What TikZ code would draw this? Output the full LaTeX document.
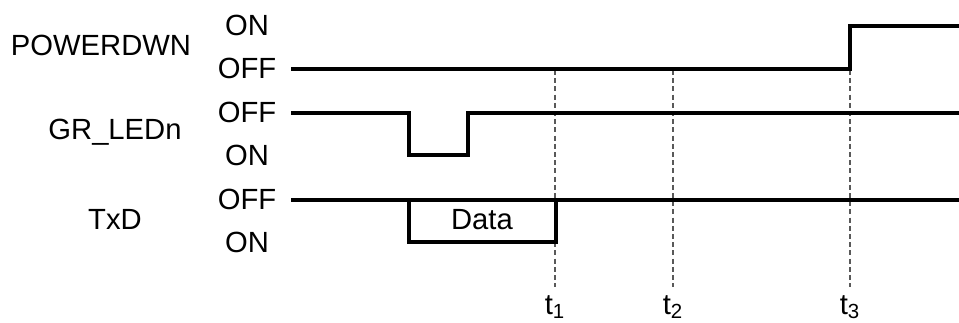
\documentclass[tikz,border=0pt]{standalone}
\usepackage{fontspec}
\setmainfont{Liberation Sans}
\usetikzlibrary{positioning}

\begin{document}
\begin{tikzpicture}[x=0.5pt, y=-0.5pt, font=\fontsize{14.6}{17}\selectfont,
  signal/.style={line width=2.3pt, line join=miter},
  marker/.style={gray!70!black, line width=0.6pt, dash pattern=on 2.5pt off 1.6pt},
  state/.style={anchor=center, inner sep=0pt}]
\useasboundingbox (0,0) rectangle (959,322);

% Signal names
\node[state] (pwr) at (101,45) {POWERDWN};
\node[state] (led) at (115,132) {GR\_LEDn};
\node[state] (txd) at (115,219) {TxD};

% Levels
\node[state] (pwron) at (247,25) {ON};
\node[state] (pwroff) at (247,68) {OFF};
\node[state] (ledoff) at (247,112) {OFF};
\node[state] (ledon) at (247,155) {ON};
\node[state] (txdoff) at (247,199) {OFF};
\node[state] (txdon) at (247,242) {ON};

% Time markers
\coordinate (t1) at (555,70);
\coordinate (t2) at (673,70);
\coordinate (t3) at (850,70);
\draw[marker] (t1) -- ++(0,217) node[below=4pt, state, anchor=north, text=black] (t1lbl) {t\textsubscript{1}};
\draw[marker] (t2) -- ++(0,217) node[below=4pt, state, anchor=north, text=black] (t2lbl) {t\textsubscript{2}};
\draw[marker] (t3) -- ++(0,217) node[below=4pt, state, anchor=north, text=black] (t3lbl) {t\textsubscript{3}};

% Waveforms
\draw[signal] (291,69) -- (850,69) -- (850,26) -- (959,26);
\draw[signal] (291,113) -- (409,113) -- (409,155) -- (468,155) -- (468,113) -- (959,113);
\draw[signal] (291,200) -- (959,200);
\draw[signal] (409,200) -- (409,242) -- (556,242) -- (556,200);
\node[state] (data) at (482,220) {Data};
\end{tikzpicture}
\end{document}
